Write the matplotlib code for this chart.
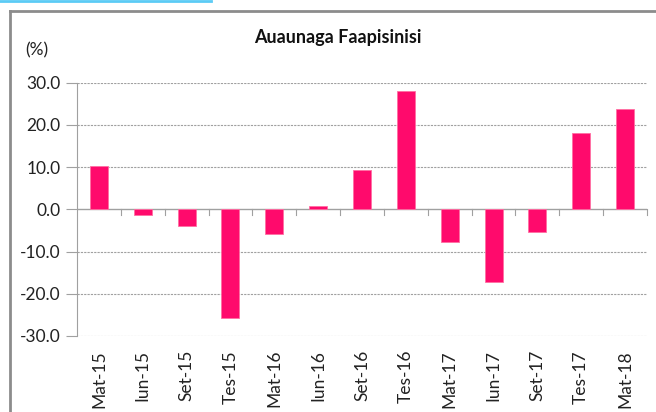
import matplotlib
matplotlib.use("Agg")
import matplotlib.pyplot as plt
from matplotlib.lines import Line2D

# data
categories = ["Mat-15", "Iun-15", "Set-15", "Tes-15", "Mat-16", "Iun-16", "Set-16",
              "Tes-16", "Mat-17", "Iun-17", "Set-17", "Tes-17", "Mat-18"]
values = [10.3, -1.3, -3.9, -25.7, -5.9, 0.9, 9.3, 28.0, -7.7, -17.3, -5.4, 18.2, 23.8]
y_ticks = [-30, -20, -10, 0, 10, 20, 30]

plt.rcParams['font.family'] = ['Lato', 'DejaVu Sans']

fig = plt.figure(figsize=(6.56, 4.12), dpi=100)
ax = fig.add_axes([77 / 656, 1 - 336 / 412, (647 - 77) / 656, (336 - 82.7) / 412])

x = list(range(len(categories)))
ax.bar(x, values, width=0.41, color="#FF0A6C", edgecolor="#FF6FA3", linewidth=0.6, zorder=3)

ax.set_xlim(-0.5, len(categories) - 0.5)
ax.set_ylim(-30, 30)
ax.set_yticks(y_ticks)
ax.set_yticklabels(["%.1f" % v for v in y_ticks], fontsize=12.5, color="#222222")

# dotted grid except at zero
for v in y_ticks:
    if v != 0:
        ax.axhline(v, color="#A0A0A0", linestyle=(0, (2, 1)), linewidth=0.8, zorder=1)
ax.axhline(0, color="#A0A0A0", linewidth=1.0, zorder=2)

for s in ["top", "right", "bottom"]:
    ax.spines[s].set_visible(False)
ax.spines["left"].set_color("#A0A0A0")
ax.tick_params(axis="y", length=8, width=0.8, color="#A0A0A0", pad=4)

# category labels at the bottom, ticks on the zero line
ax.set_xticks(x)
ax.set_xticklabels(categories, rotation=90, fontsize=12.5, color="#222222")
ax.tick_params(axis="x", length=0, pad=10)
for i in range(1, len(categories) + 1):
    ax.plot([i - 0.5, i - 0.5], [0, -1.4], color="#A0A0A0", linewidth=0.8, clip_on=False, zorder=2)

fig.text(338 / 656, 1 - 38 / 412, "Auaunaga Faapisinisi", ha="center", va="center",
         fontsize=13, fontweight="bold", color="#111111")
fig.text(25 / 656, 1 - 50 / 412, "(%)", ha="left", va="center", fontsize=12.5, color="#222222")

# outer frame and blue strip
fig.add_artist(Line2D([10 / 656, 10 / 656], [0, 1 - 11 / 412], transform=fig.transFigure,
                      color="#8C8C8C", linewidth=2))
fig.add_artist(Line2D([10 / 656, 1], [1 - 11 / 412, 1 - 11 / 412], transform=fig.transFigure,
                      color="#8C8C8C", linewidth=2))
fig.add_artist(Line2D([0, 211 / 656], [1 - 1 / 412, 1 - 1 / 412], transform=fig.transFigure,
                      color="#5BCBF5", linewidth=2))

fig.savefig("out.png", dpi=100)
